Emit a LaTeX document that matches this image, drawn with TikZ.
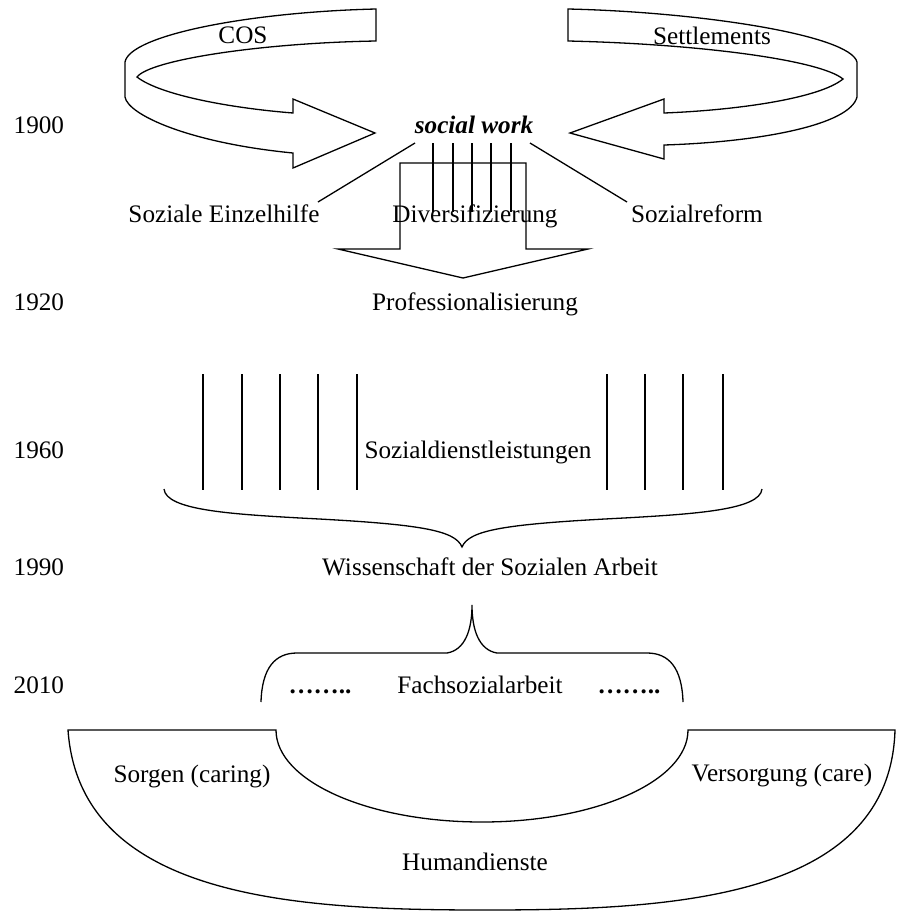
\documentclass[tikz,border=0pt]{standalone}
\usepackage{fontspec}
\setmainfont{Liberation Serif}
\usetikzlibrary{positioning}
\newcommand{\setupcoords}{
    \coordinate (swL) at (415,143);
    \coordinate (swR) at (530,143);
    \coordinate (einL) at (318,202);
    \coordinate (refR) at (627,202);

    \coordinate (b0) at (68,730);
    \coordinate (b1) at (276,730);
    \coordinate (b2) at (688,730);
    \coordinate (b3) at (895,730);
}
\newcommand{\stroke}[3]{
  \draw (#1,#2) -- (#1,#3);
}
\tikzset{
  every node/.style={font=\fontsize{12.6}{15}\selectfont, inner sep=0pt},
  year/.style={anchor=base west},
  txt/.style={anchor=base},
}

\begin{document}
\begin{tikzpicture}[x=0.5pt,y=-0.5pt,line width=0.65pt]
          \useasboundingbox (0,0) rectangle (902,911);
          \setupcoords;

          % time axis
          \node[year] (y1900) at (13,133) {1900};
          \node[year] (y1920) at (13,310) {1920};
          \node[year] (y1960) at (13,458) {1960};
          \node[year] (y1990) at (13,575) {1990};
          \node[year] (y2010) at (13,693) {2010};

          % COS ribbon
          \draw (376,9) .. controls (250,12) and (130,35) .. (125,62) -- (125,97)
                .. controls (128,115) and (190,143) .. (293,153) -- (293,168)
                -- (375,133) -- (293,99) -- (293,113)
                .. controls (230,108) and (160,95) .. (137,77)
                .. controls (150,60) and (260,43) .. (376,41) -- cycle;
          \node[txt] (cos) at (243,43) {COS};

          % Settlements ribbon
          \draw (568,9) .. controls (700,12) and (850,35) .. (857,62) -- (857,97)
                .. controls (850,125) and (760,142) .. (664,145) -- (664,159)
                -- (570,133) -- (664,99) -- (664,113)
                .. controls (740,110) and (820,98) .. (843,79)
                .. controls (820,60) and (700,44) .. (568,41) -- cycle;
          \node[txt] (settle) at (712,44) {Settlements};

          \node[txt] (socwork) at (474,133) {\textbf{\itshape social work}};

          \node[txt] (einzel) at (224,222) {Soziale Einzelhilfe};
          \node[txt] (divers) at (475,222) {Diversifizierung};
          \node[txt] (reform) at (697,222) {Sozialreform};
          \draw (swL) -- (einL);
          \draw (swR) -- (refR);

          % down arrow
          \draw (338,249) -- (400,249) -- (400,163) -- (526,163) -- (526,249)
                -- (588,249) -- (463,278) -- cycle;
          \stroke{433}{143}{212}
          \stroke{453}{143}{212}
          \stroke{472}{143}{212}
          \stroke{491}{143}{212}
          \stroke{511}{143}{212}

          \node[txt] (prof) at (475,310) {Professionalisierung};

          % services
          \stroke{203}{374}{490}
          \stroke{242}{374}{490}
          \stroke{280}{374}{490}
          \stroke{318}{374}{490}
          \stroke{357}{374}{490}
          \stroke{607}{374}{490}
          \stroke{645}{374}{490}
          \stroke{683}{374}{490}
          \stroke{723}{374}{490}
          \node[txt] (sozdl) at (478,458) {Sozialdienstleistungen};

          \draw (164,489) .. controls (166,510) and (230,514) .. (300,518)
                .. controls (420,524) and (455,530) .. (462,547)
                .. controls (469,530) and (504,524) .. (624,518)
                .. controls (694,514) and (760,510) .. (762,489);
          \node[txt] (wiss) at (490,575) {Wissenschaft der Sozialen Arbeit};

          \draw (261,702) .. controls (262,668) and (275,653) .. (297,653) -- (447,653)
                .. controls (465,650) and (472,630) .. (472,605)
                .. controls (472,630) and (479,650) .. (497,653) -- (647,653)
                .. controls (669,653) and (682,668) .. (683,702);
          \node[txt] (dotsL) at (320,693) {\textbf{……..}};
          \node[txt] (fach) at (480,693) {Fachsozialarbeit};
          \node[txt] (dotsR) at (629,693) {\textbf{……..}};

          % human services
          \draw (b0) -- (b1) .. controls (276,781) and (368,822) .. (482,822)
                .. controls (596,822) and (688,781) .. (b2) -- (b3)
                .. controls (890,900) and (670,910) .. (485,910)
                .. controls (300,910) and (80,900) .. (b0) -- cycle;
          \node[txt] (sorgen) at (192,782) {Sorgen (caring)};
          \node[txt] (versorg) at (782,781) {Versorgung (care)};
          \node[txt] (human) at (475,870) {Humandienste};
        \end{tikzpicture}
\end{document}
